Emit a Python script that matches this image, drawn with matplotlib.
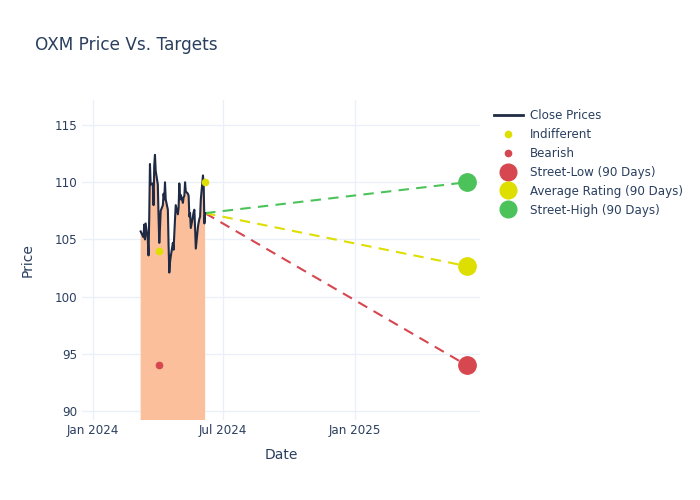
import matplotlib.pyplot as plt
from matplotlib.lines import Line2D
import matplotlib.dates as mdates
import pandas as pd
import numpy as np

# close prices, one per business day from 2024-03-08
close_start = "2024-03-08"
close_prices = [105.7, 105.3, 105.2, 106.3, 105.0, 106.4, 105.0, 103.6, 107.0, 111.6,
                109.8, 109.9, 108.0, 111.5, 112.4, 111.0, 109.8, 107.0, 104.7, 106.0,
                107.5, 108.0, 109.0, 108.5, 110.0, 108.5, 107.6, 104.5, 102.1, 103.0,
                103.5, 104.7, 104.1, 105.5, 106.8, 108.0, 107.2, 107.8, 109.9, 108.5,
                108.9, 108.2, 108.7, 108.8, 110.0, 109.2, 109.0, 108.8, 107.0, 107.3,
                106.0, 107.0, 107.4, 107.6, 106.0, 104.2, 106.1, 106.5, 106.8, 107.0,
                108.5, 110.6, 109.8, 106.4, 107.3]

indiff_dates = ["2024-04-02", "2024-06-06"]
indiff_prices = [104.0, 110.0]
bear_dates = ["2024-04-02"]
bear_prices = [94.0]

target_date = "2025-06-06"
target_names = ["Street-Low (90 Days)", "Average Rating (90 Days)", "Street-High (90 Days)"]
target_values = [94.0, 102.67, 110.0]
target_colors = ["#d6474f", "#dede00", "#4cc35a"]

navy = "#2a3f5f"
grid = "#ebf0f8"

dates = pd.bdate_range(close_start, periods=len(close_prices))

fig = plt.figure(figsize=(7, 5), dpi=100)
ax = fig.add_axes([0.117, 0.16, 0.569, 0.64])

ax.fill_between(dates, close_prices, 0, color="#fbbf9b", lw=0)
ax.plot(dates, close_prices, color="#1f2a44", lw=1.5, zorder=3)

ax.plot(pd.to_datetime(indiff_dates), indiff_prices, "o", color="#dede00", ms=4.5, zorder=4)
ax.plot(pd.to_datetime(bear_dates), bear_prices, "o", color="#d6474f", ms=4.5, zorder=4)

last_d = dates[-1]
td = pd.Timestamp(target_date)
for v, c in zip(target_values, target_colors):
    ax.plot([last_d, td], [close_prices[-1], v], "--", color=c, lw=1.5, dashes=(5, 3.5), zorder=2)
    ax.plot([td], [v], "o", color=c, ms=12.5, zorder=5)

ax.set_xlim(pd.Timestamp("2023-12-17"), pd.Timestamp("2025-06-25"))
ax.set_ylim(89.2, 117.2)
ax.set_yticks([90, 95, 100, 105, 110, 115])
ax.xaxis.set_major_locator(mdates.MonthLocator(bymonth=[1, 7]))
ax.xaxis.set_major_formatter(mdates.DateFormatter("%b %Y"))
ax.grid(True, color=grid, lw=1)
ax.set_axisbelow(True)
for s in ax.spines.values():
    s.set_visible(False)
ax.tick_params(length=0, colors=navy, labelsize=8.6)
ax.tick_params(axis="x", pad=3)
ax.tick_params(axis="y", pad=3)
ax.set_xlabel("Date", color=navy, fontsize=10, labelpad=8)
ax.set_ylabel("Price", color=navy, fontsize=10, labelpad=15)

fig.text(0.05, 0.91, "OXM Price Vs. Targets", color=navy, fontsize=12.2, va="center")

handles = [Line2D([], [], color="#1f2a44", lw=2),
           Line2D([], [], ls="", marker="o", color="#dede00", ms=4.5),
           Line2D([], [], ls="", marker="o", color="#d6474f", ms=4.5)]
handles += [Line2D([], [], ls="", marker="o", color=c, ms=12) for c in target_colors]
labels = ["Close Prices", "Indifferent", "Bearish"] + target_names
leg = fig.legend(handles, labels, loc="upper left", bbox_to_anchor=(0.699, 0.792),
                 frameon=False, fontsize=8.6, labelspacing=0.5, handlelength=2.4,
                 handletextpad=0.6, borderaxespad=0)
for t in leg.get_texts():
    t.set_color(navy)

fig.savefig("out.png", dpi=100)
